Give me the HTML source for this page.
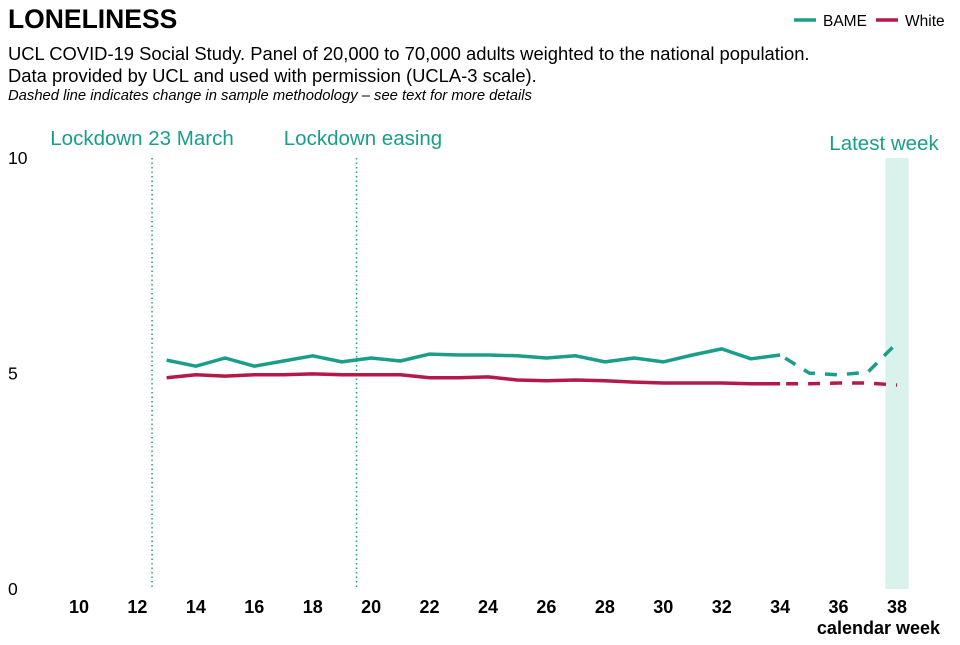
<!DOCTYPE html>
<html><head><meta charset="utf-8"><style>
body{margin:0;background:#fff;font-family:"Liberation Sans",sans-serif;}
</style></head><body>
<svg width="960" height="640" xmlns="http://www.w3.org/2000/svg" style="font-family:'Liberation Sans',sans-serif">
<text x="8" y="28" font-size="26.5" font-weight="bold">LONELINESS</text>
<text x="8" y="60" font-size="18.4">UCL COVID-19 Social Study. Panel of 20,000 to 70,000 adults weighted to the national population.</text>
<text x="8" y="82" font-size="18.4">Data provided by UCL and used with permission (UCLA-3 scale).</text>
<text x="8" y="100" font-size="14.8" font-style="italic">Dashed line indicates change in sample methodology – see text for more details</text>
<g>
<line x1="794" y1="20" x2="816" y2="20" stroke="#1a9e8a" stroke-width="3.5"/>
<text x="823" y="26" font-size="15.5">BAME</text>
<line x1="876" y1="20" x2="898" y2="20" stroke="#b5194a" stroke-width="3.5"/>
<text x="905" y="26" font-size="15.5">White</text>
</g>
<g id="plot"></g>
</svg>
<script>
const weeks=[13,14,15,16,17,18,19,20,21,22,23,24,25,26,27,28,29,30,31,32,33,34,35,36,37,38];
const bame=[5.31,5.17,5.36,5.17,5.29,5.41,5.27,5.36,5.29,5.45,5.43,5.43,5.41,5.36,5.41,5.27,5.36,5.27,5.43,5.57,5.34,5.43,5.01,4.97,5.03,5.71];
const white=[4.90,4.97,4.94,4.97,4.97,4.99,4.97,4.97,4.97,4.90,4.90,4.92,4.85,4.83,4.85,4.83,4.80,4.78,4.78,4.78,4.76,4.76,4.76,4.78,4.78,4.73];
const xTicks=[10,12,14,16,18,20,22,24,26,28,30,32,34,36,38];
const yTicks=[0,5,10];
const dashFrom=34;
const X=w=>79+(w-10)*(897-79)/28;
const Y=v=>589-v*43.1;
const g=document.getElementById('plot');
const NS='http://www.w3.org/2000/svg';
function mk(t,a){const e=document.createElementNS(NS,t);for(const k in a)e.setAttribute(k,a[k]);g.appendChild(e);return e;}
let band=mk('rect',{x:X(37.6),y:158,width:X(38.4)-X(37.6),height:431,fill:'#d9f2ec'});


let lt=mk('text',{x:884,y:150,'font-size':20.5,fill:'#1a9e8a','text-anchor':'middle'});lt.textContent='Latest week';


[[12.5,'Lockdown 23 March',142],[19.5,'Lockdown easing',363]].forEach(([w,l,lx])=>{
 let ln=mk('line',{x1:X(w),y1:158,x2:X(w),y2:589,stroke:'#1a9e8a','stroke-width':1.5,'stroke-dasharray':'1.5 3'});
 
 
 let t=mk('text',{x:lx,y:145,'font-size':20.5,fill:'#1a9e8a','text-anchor':'middle'});t.textContent=l;
 
 
});
yTicks.forEach(v=>{let t=mk('text',{x:8,y:Y(v)+6,'font-size':17.5});t.textContent=v;
 
 });
xTicks.forEach(w=>{let t=mk('text',{x:X(w),y:613,'font-size':18,'font-weight':'bold','text-anchor':'middle'});t.textContent=w;
 
 });
let xt=mk('text',{x:940,y:634,'font-size':18,'font-weight':'bold','text-anchor':'end'});xt.textContent='calendar week';


function series(vals,color,name){
 const solid=[],dash=[];
 weeks.forEach((w,i)=>{const p=X(w).toFixed(1)+','+Y(vals[i]).toFixed(1);if(w<=dashFrom)solid.push(p);if(w>=dashFrom)dash.push(p);});
 let a=mk('polyline',{points:solid.join(' '),fill:'none',stroke:color,'stroke-width':3.5,'stroke-linejoin':'round'});
 
 
 let b=mk('polyline',{points:dash.join(' '),fill:'none',stroke:color,'stroke-width':3.5,'stroke-dasharray':'12 10','stroke-dashoffset':'-6'});
 
 
}
series(white,'#b5194a','white');
series(bame,'#1a9e8a','bame');
</script>
</body></html>
